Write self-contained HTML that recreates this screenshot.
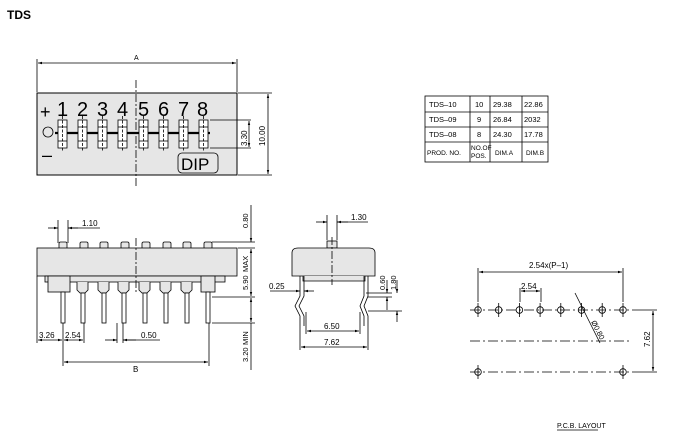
<!DOCTYPE html>
<html><head><meta charset="utf-8"><style>
body{margin:0;background:#fff}
svg{display:block;font-family:"Liberation Sans",sans-serif}
</style></head><body>
<svg width="673" height="445" viewBox="0 0 673 445" xmlns="http://www.w3.org/2000/svg">
<defs>
<marker id="a" viewBox="0 0 10 10" refX="10" refY="5" markerWidth="5" markerHeight="5" orient="auto-start-reverse"><path d="M0,2 L10,5 L0,8z" fill="#000"/></marker>
</defs>
<text x="7" y="19" font-size="12" font-weight="bold">TDS</text>

<!-- TOP VIEW -->
<g stroke="#000" fill="none" stroke-width="0.8">
<line x1="37" y1="59" x2="37" y2="92"/><line x1="237" y1="59" x2="237" y2="92"/>
<line x1="38" y1="63" x2="236" y2="63" marker-start="url(#a)" marker-end="url(#a)"/>
<rect x="37" y="93" width="200" height="82" fill="#e6e6e6" stroke-width="1"/>
<line x1="136" y1="80" x2="136" y2="188" stroke-dasharray="8,2,2,2"/>
<line x1="55" y1="133" x2="210" y2="133" stroke-width="2.2"/>
<rect x="178" y="153" width="40" height="20" rx="4"/>
<line x1="210" y1="120" x2="251" y2="120"/><line x1="210" y1="148" x2="251" y2="148"/>
<line x1="249" y1="121" x2="249" y2="147" marker-start="url(#a)" marker-end="url(#a)"/>
<line x1="238" y1="93" x2="272" y2="93"/><line x1="238" y1="175" x2="272" y2="175"/>
<line x1="268" y1="94" x2="268" y2="174" marker-start="url(#a)" marker-end="url(#a)"/>
<circle cx="48" cy="132" r="5"/>
</g>
<g font-size="20" fill="#000" stroke="none">
<text x="40" y="118" font-size="18">+</text><text x="42" y="161" font-size="18">–</text>
<text x="57" y="116">1</text><text x="77" y="116">2</text><text x="97" y="116">3</text><text x="117" y="116">4</text><text x="138" y="116">5</text><text x="158" y="116">6</text><text x="178" y="116">7</text><text x="197" y="116">8</text>
<text x="181" y="170" font-size="17">DIP</text>
</g>
<g stroke="#000" fill="#fff" stroke-width="0.8">
<g id="sw"><rect x="58" y="120" width="9" height="28"/><line x1="58" y1="127" x2="67" y2="127"/><line x1="58" y1="141" x2="67" y2="141"/><line x1="62.5" y1="116" x2="62.5" y2="152" stroke-dasharray="3,1.5"/></g>
<use href="#sw" x="20"/><use href="#sw" x="40"/><use href="#sw" x="60"/><use href="#sw" x="81"/><use href="#sw" x="101"/><use href="#sw" x="121"/><use href="#sw" x="141"/>
</g>
<text x="134" y="60" font-size="7">A</text>
<text transform="translate(247,146) rotate(-90)" font-size="8">3.30</text>
<text transform="translate(265,146) rotate(-90)" font-size="8">10.00</text>

<!-- TABLE -->
<g stroke="#000" fill="none" stroke-width="0.8">
<rect x="425" y="96" width="123" height="66"/>
<line x1="425" y1="112" x2="548" y2="112"/><line x1="425" y1="127" x2="548" y2="127"/><line x1="425" y1="142" x2="548" y2="142"/>
<line x1="470" y1="96" x2="470" y2="162"/><line x1="490" y1="96" x2="490" y2="162"/><line x1="522" y1="96" x2="522" y2="162"/>
</g>
<g font-size="7.5">
<text x="429" y="107">TDS–10</text><text x="475" y="107">10</text><text x="493" y="107">29.38</text><text x="524" y="107">22.86</text>
<text x="429" y="122">TDS–09</text><text x="477" y="122">9</text><text x="493" y="122">26.84</text><text x="524" y="122">2032</text>
<text x="429" y="137">TDS–08</text><text x="477" y="137">8</text><text x="493" y="137">24.30</text><text x="524" y="137">17.78</text>
<text x="427" y="155" font-size="6.5">PROD. NO.</text><text x="471" y="150" font-size="6.5">NO.OF</text><text x="471" y="158" font-size="6.5">POS.</text><text x="495" y="155" font-size="6.5">DIM.A</text><text x="526" y="155" font-size="6.5">DIM.B</text>
</g>

<!-- SIDE VIEW -->
<g stroke="#000" stroke-width="0.8" fill="#e6e6e6">
<g id="btn"><rect x="59" y="242" width="8" height="7" rx="1.5"/></g>
<use href="#btn" x="21"/><use href="#btn" x="41"/><use href="#btn" x="62"/><use href="#btn" x="83"/><use href="#btn" x="104"/><use href="#btn" x="124"/><use href="#btn" x="145"/>
<rect x="37" y="248" width="200" height="28"/>
<rect x="45" y="276" width="180" height="6"/>
<rect x="48" y="276" width="22" height="16"/>
<rect x="201" y="276" width="14" height="16"/>
<g id="pin"><path d="M77,282 v8 l3,3 v0 h5 l3,-3 v-8"/><rect x="81" y="293" width="4" height="30" fill="#fff"/></g>
<use href="#pin" x="21"/><use href="#pin" x="41"/><use href="#pin" x="62"/><use href="#pin" x="83"/><use href="#pin" x="104"/>
<rect x="61" y="292" width="4" height="31" fill="#fff"/><rect x="206" y="292" width="4" height="31" fill="#fff"/>
</g>
<g stroke="#000" stroke-width="0.8" fill="none">
<line x1="136" y1="238" x2="136" y2="292" stroke-dasharray="8,2,2,2"/>
<line x1="58" y1="220" x2="58" y2="243"/><line x1="68" y1="220" x2="68" y2="243"/>
<line x1="48" y1="228" x2="58" y2="228" marker-end="url(#a)"/><line x1="78" y1="228" x2="68" y2="228" marker-end="url(#a)"/><line x1="68" y1="228" x2="100" y2="228"/>
<line x1="37" y1="276" x2="37" y2="343"/><line x1="63" y1="323" x2="63" y2="366"/><line x1="84" y1="323" x2="84" y2="343"/>
<line x1="38" y1="340" x2="62" y2="340" marker-start="url(#a)" marker-end="url(#a)"/>
<line x1="64" y1="340" x2="83" y2="340" marker-start="url(#a)" marker-end="url(#a)"/>
<line x1="117" y1="323" x2="117" y2="343"/><line x1="123" y1="323" x2="123" y2="343"/>
<line x1="105" y1="340" x2="117" y2="340" marker-end="url(#a)"/><line x1="136" y1="340" x2="123" y2="340" marker-end="url(#a)"/><line x1="123" y1="340" x2="160" y2="340"/>
<line x1="209" y1="323" x2="209" y2="366"/>
<line x1="64" y1="362" x2="208" y2="362" marker-start="url(#a)" marker-end="url(#a)"/>
<line x1="212" y1="242" x2="255" y2="242"/><line x1="238" y1="248" x2="255" y2="248"/>
<line x1="212" y1="297" x2="255" y2="297"/><line x1="212" y1="323" x2="255" y2="323"/>
<line x1="251" y1="205" x2="251" y2="242" marker-end="url(#a)"/>
<line x1="251" y1="249" x2="251" y2="296" marker-start="url(#a)" marker-end="url(#a)"/>
<line x1="251" y1="298" x2="251" y2="322" marker-start="url(#a)" marker-end="url(#a)"/>
<line x1="251" y1="323" x2="251" y2="370"/>
</g>
<g font-size="8">
<text x="82" y="226">1.10</text>
<text x="39" y="338">3.26</text><text x="65" y="338">2.54</text><text x="141" y="338">0.50</text>
<text x="133" y="372">B</text>
</g>
<g font-size="7.5">
<text transform="translate(248,228) rotate(-90)">0.80</text>
<text transform="translate(248,272) rotate(-90)">MAX</text>
<text transform="translate(248,290) rotate(-90)">5.90</text>
<text transform="translate(248,345) rotate(-90)">MIN</text>
<text transform="translate(248,362) rotate(-90)">3.20</text>
</g>

<!-- END VIEW -->
<g stroke="#000" stroke-width="0.8">
<rect x="327" y="241" width="10" height="7" fill="#e6e6e6"/>
<path d="M292,276 V253 Q292,248 298,248 H369 Q375,248 375,253 V276 Z" fill="#e6e6e6"/>
<path d="M303,276 v5 h62 v-5" fill="#e6e6e6"/>
<path d="M300,276 v20 l-5,10 l5,10 v10 M304,276 v20 l-5,10 l5,10 v10" fill="none"/>
<path d="M364,276 v20 l-4,10 l4,10 v10 M368,276 v20 l-4,10 l4,10 v10" fill="none"/>
</g>
<g stroke="#000" stroke-width="0.8" fill="none">
<line x1="332" y1="237" x2="332" y2="285" stroke-dasharray="8,2,2,2"/>
<line x1="327" y1="215" x2="327" y2="240"/><line x1="337" y1="215" x2="337" y2="240"/>
<line x1="316" y1="222" x2="327" y2="222" marker-end="url(#a)"/><line x1="348" y1="222" x2="337" y2="222" marker-end="url(#a)"/><line x1="337" y1="222" x2="368" y2="222"/>
<line x1="270" y1="291" x2="300" y2="291" marker-end="url(#a)"/><line x1="314" y1="291" x2="304" y2="291" marker-end="url(#a)"/>
<line x1="306" y1="312" x2="306" y2="334"/><line x1="360" y1="312" x2="360" y2="334"/>
<line x1="307" y1="331" x2="359" y2="331" marker-start="url(#a)" marker-end="url(#a)"/>
<line x1="300" y1="326" x2="300" y2="350"/><line x1="368" y1="326" x2="368" y2="350"/>
<line x1="301" y1="347" x2="367" y2="347" marker-start="url(#a)" marker-end="url(#a)"/>
<line x1="366" y1="293" x2="392" y2="293"/><line x1="368" y1="297" x2="392" y2="297"/><line x1="368" y1="311" x2="402" y2="311"/>
<line x1="387" y1="280" x2="387" y2="293" marker-end="url(#a)"/><line x1="387" y1="310" x2="387" y2="297" marker-end="url(#a)"/>
<line x1="397" y1="280" x2="397" y2="293" marker-end="url(#a)"/><line x1="397" y1="322" x2="397" y2="311" marker-end="url(#a)"/>
</g>
<g font-size="8">
<text x="351" y="220">1.30</text><text x="269" y="289">0.25</text>
<text x="324" y="329">6.50</text><text x="324" y="345">7.62</text>
</g>
<g font-size="7.5">
<text transform="translate(385,290) rotate(-90)">0.60</text>
<text transform="translate(396,290) rotate(-90)">1.80</text>
</g>

<!-- PCB -->
<g stroke="#000" stroke-width="0.8" fill="none">
<line x1="470" y1="310" x2="632" y2="310" stroke-dasharray="10,3,2,3"/>
<line x1="470" y1="341" x2="632" y2="341" stroke-dasharray="10,3,2,3"/>
<line x1="470" y1="372" x2="632" y2="372" stroke-dasharray="10,3,2,3"/>
<line x1="632" y1="310" x2="657" y2="310"/><line x1="632" y1="372" x2="657" y2="372"/>
<line x1="653" y1="311" x2="653" y2="371" marker-start="url(#a)" marker-end="url(#a)"/>
<line x1="478" y1="268" x2="478" y2="302"/><line x1="623" y1="268" x2="623" y2="302"/>
<line x1="479" y1="272" x2="622" y2="272" marker-start="url(#a)" marker-end="url(#a)"/>
<line x1="520" y1="288" x2="520" y2="302"/><line x1="541" y1="288" x2="541" y2="302"/>
<line x1="521" y1="291" x2="540" y2="291" marker-start="url(#a)" marker-end="url(#a)"/>
<line x1="575" y1="293" x2="600" y2="343"/>
<g id="h"><circle cx="478" cy="310" r="3.3"/><line x1="478" y1="303" x2="478" y2="317"/></g>
<use href="#h" x="20.7"/><use href="#h" x="41.4"/><use href="#h" x="62.1"/><use href="#h" x="82.8"/><use href="#h" x="103.5"/><use href="#h" x="124.2"/><use href="#h" x="145"/>
<use href="#h" y="62"/><use href="#h" x="145" y="62"/>
<line x1="557" y1="430" x2="598" y2="430"/>
</g>
<text x="529" y="268" font-size="8">2.54x(P–1)</text>
<text x="521" y="289" font-size="8">2.54</text>
<text transform="translate(591,322) rotate(63)" font-size="7.5">Ø0.80</text>
<text transform="translate(650,347) rotate(-90)" font-size="8">7.62</text>
<text x="557" y="428" font-size="7">P.C.B.  LAYOUT</text>
</svg>
</body></html>
